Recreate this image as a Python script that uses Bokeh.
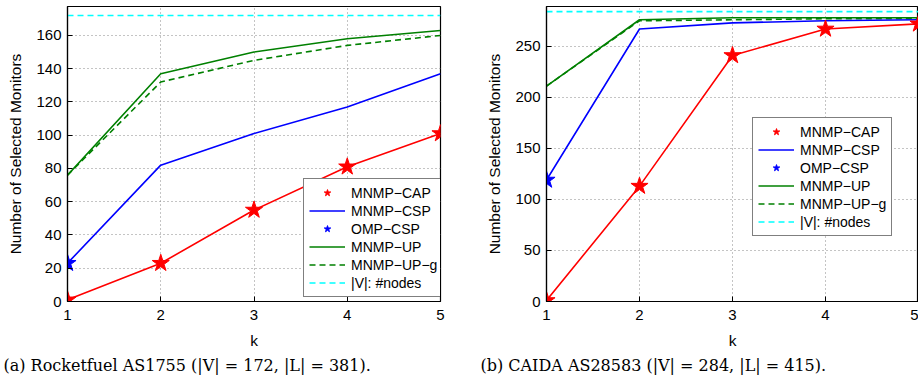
from bokeh.plotting import figure
from bokeh.models import Range1d, Legend, LegendItem, Title, FixedTicker
from bokeh.layouts import row
from bokeh.embed import file_html
from bokeh.resources import INLINE

k = [1, 2, 3, 4, 5]
k_first = [1]

# (a) Rocketfuel AS1755
a_cap = [1, 23, 55, 81, 101]
a_csp = [23, 82, 101, 117, 137]
a_omp = [23]
a_up = [76, 137, 150, 158, 163]
a_upg = [76, 132, 145, 154, 160]
a_nodes = 172
a_yticks = [0, 20, 40, 60, 80, 100, 120, 140, 160]
a_caption = "(a) Rocketfuel AS1755 (|V| = 172, |L| = 381)."

# (b) CAIDA AS28583
b_cap = [1, 113, 241, 267, 272]
b_csp = [119, 267, 273, 275, 276]
b_omp = [119]
b_up = [211, 276, 278, 278, 278]
b_upg = [211, 275, 276, 277, 277]
b_nodes = 284
b_yticks = [0, 50, 100, 150, 200, 250]
b_caption = "(b) CAIDA AS28583 (|V| = 284, |L| = 415)."

labels = ["MNMP\u2212CAP", "MNMP\u2212CSP", "OMP\u2212CSP", "MNMP\u2212UP", "MNMP\u2212UP\u2212g", "|V|: #nodes"]

FONT = "Liberation Sans"


def panel(width, mbl, mbr, ytop, xend, cap, csp, omp, up, upg, nodes, yticks,
          caption, leg_loc, cap_offset):
    p = figure(width=width, height=380, output_backend="svg", toolbar_location=None,
               x_range=Range1d(1, xend), y_range=Range1d(0, ytop),
               min_border_left=mbl, min_border_right=mbr, min_border_top=6,
               min_border_bottom=79)
    p.outline_line_color = "black"
    p.outline_line_width = 1.2
    p.background_fill_color = "white"
    p.border_fill_color = "white"

    for ax in (p.xaxis[0], p.yaxis[0]):
        ax.axis_line_color = "black"
        ax.axis_line_width = 1.2
        ax.major_tick_in = 5
        ax.major_tick_out = 0
        ax.minor_tick_line_color = None
        ax.major_label_text_font = FONT
        ax.major_label_text_font_size = "15px"
        ax.major_label_text_color = "black"
        ax.axis_label_text_font = FONT
        ax.axis_label_text_font_size = "15.5px"
        ax.axis_label_text_font_style = "normal"
        ax.axis_label_text_color = "black"
    p.xaxis.ticker = FixedTicker(ticks=k)
    p.yaxis.ticker = FixedTicker(ticks=yticks)
    p.xaxis.axis_label = "k"
    p.yaxis.axis_label = "Number of Selected Monitors"
    p.xaxis.major_label_standoff = 8
    p.xaxis.axis_label_standoff = 9
    p.yaxis.major_label_standoff = 6
    p.yaxis.axis_label_standoff = 9

    for g in (p.xgrid[0], p.ygrid[0]):
        g.grid_line_color = "#888888"
        g.grid_line_dash = "1 3"
        g.grid_line_width = 1

    xs_nodes = k
    ys_nodes = [nodes for _ in k]
    r_nodes = p.line(xs_nodes, ys_nodes, line_color="#00ffff", line_width=1.6, line_dash="6 4")
    r_upg = p.line(k, upg, line_color="#008000", line_width=1.6, line_dash="6 4")
    r_up = p.line(k, up, line_color="#008000", line_width=1.6)
    r_csp = p.line(k, csp, line_color="#0000ff", line_width=1.6)
    p.line(k, cap, line_color="#ff0000", line_width=1.6)
    r_cap = p.scatter(k, cap, marker="star", size=18, fill_color="#ff0000", line_color="#ff0000")
    r_omp = p.scatter(k_first, omp, marker="star", size=18, fill_color="#0000ff", line_color="#0000ff")

    legend = Legend(items=[
        LegendItem(label=labels[0], renderers=[r_cap]),
        LegendItem(label=labels[1], renderers=[r_csp]),
        LegendItem(label=labels[2], renderers=[r_omp]),
        LegendItem(label=labels[3], renderers=[r_up]),
        LegendItem(label=labels[4], renderers=[r_upg]),
        LegendItem(label=labels[5], renderers=[r_nodes]),
    ], location=leg_loc)
    legend.label_text_font = FONT
    legend.label_text_font_size = "14px"
    legend.label_text_color = "black"
    legend.glyph_width = 36
    legend.glyph_height = 17
    legend.label_height = 17
    legend.spacing = 1
    legend.padding = 5
    legend.margin = 0
    legend.label_standoff = 6
    legend.border_line_color = "black"
    legend.border_line_width = 1.5
    legend.background_fill_color = "white"
    legend.background_fill_alpha = 1
    p.add_layout(legend, "center")

    t = Title(text=caption, align="left", offset=cap_offset, text_font="DejaVu Serif",
              text_font_size="16px", text_font_style="normal", text_color="black",
              standoff=5)
    p.add_layout(t, "below")
    return p


pa = panel(470, 67, 30, 177.4, 5, a_cap, a_csp, a_omp, a_up, a_upg, a_nodes, a_yticks,
           a_caption, (236, 4), -64)
pb = panel(448, 76, 0, 289, 5.0, b_cap, b_csp, b_omp, b_up, b_upg, b_nodes, b_yticks,
           b_caption, (206, 65), -66)

layout = row(pa, pb)
open("out.html", "w").write(file_html(layout, INLINE))
